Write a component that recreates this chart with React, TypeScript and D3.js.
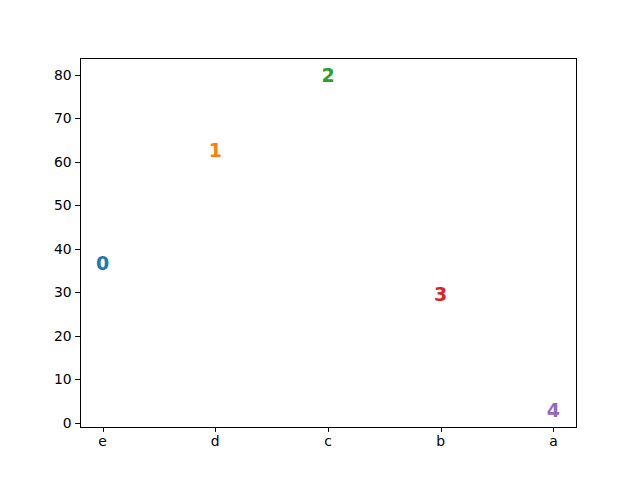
import React from "react";
import * as d3 from "d3";

const categories = ["e", "d", "c", "b", "a"];
const labels = ["0", "1", "2", "3", "4"];
const values = [36.7, 62.7, 80, 29.7, 2.9];
const colors = ["#1f77b4", "#ff7f0e", "#2ca02c", "#d62728", "#9467bd"];
const yTicks = [0, 10, 20, 30, 40, 50, 60, 70, 80];

export default function App() {
  const W = 640, H = 480;
  const left = 80, right = 576, top = 58, bottom = 427;
  const n = categories.length;
  const x = d3.scaleLinear().domain([-0.2 * (n - 1) / 4, (n - 1) + 0.2 * (n - 1) / 4]).range([left, right]);
  const ymin = d3.min(values)!, ymax = d3.max(values)!;
  const pad = (ymax - ymin) * 0.05;
  const y = d3.scaleLinear().domain([ymin - pad, ymax + pad]).range([bottom, top]);
  const font = "DejaVu Sans, sans-serif";
  return (
    <svg width={W} height={H} style={{ position: "absolute", left: 0, top: 0, background: "#fff" }}>
      <rect x={0} y={0} width={W} height={H} fill="#fff" />
      {values.map((v, i) => (
        <text key={i} x={x(i)} y={y(v)} fill={colors[i]} fontFamily={font} fontWeight="bold" fontSize={19}
          textAnchor="middle" dominantBaseline="central">{labels[i]}</text>
      ))}
      <rect x={left + 0.5} y={top + 0.5} width={right - left} height={bottom - top} fill="none" stroke="#000" strokeWidth={1} />
      {yTicks.map((t) => (
        <g key={t}>
          <line x1={left - 4.86} x2={left} y1={Math.round(y(t)) + 0.5} y2={Math.round(y(t)) + 0.5} stroke="#000" strokeWidth={1} />
          <text x={left - 8.3} y={y(t)} fontFamily={font} fontSize={13.9} textAnchor="end" dominantBaseline="central" fill="#000">{t}</text>
        </g>
      ))}
      {categories.map((c, i) => (
        <g key={c}>
          <line x1={Math.round(x(i)) + 0.5} x2={Math.round(x(i)) + 0.5} y1={bottom} y2={bottom + 4.86} stroke="#000" strokeWidth={1} />
          <text x={x(i)} y={bottom + 8.3} fontFamily={font} fontSize={13.9} textAnchor="middle" dominantBaseline="hanging" fill="#000">{c}</text>
        </g>
      ))}
    </svg>
  );
}
